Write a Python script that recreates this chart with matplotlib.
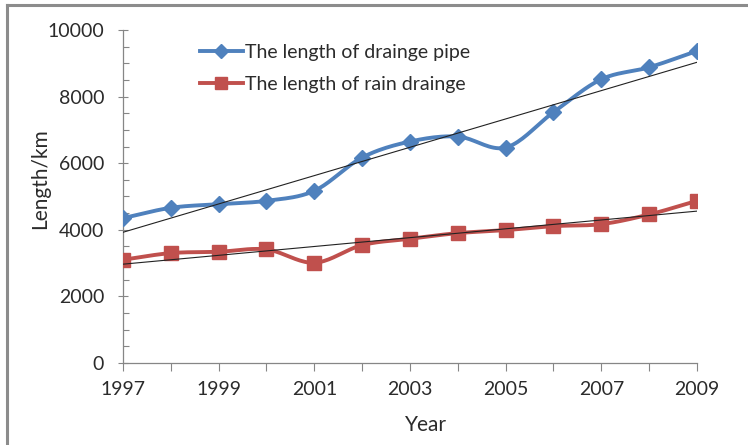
import numpy as np
import matplotlib
matplotlib.use("Agg")
import matplotlib.pyplot as plt
from matplotlib.lines import Line2D
from matplotlib.ticker import MultipleLocator

plt.rcParams['font.family'] = ['Lato', 'DejaVu Sans']

years = [1997, 1998, 1999, 2000, 2001, 2002, 2003, 2004, 2005, 2006, 2007, 2008, 2009]
pipe = [4350, 4660, 4770, 4870, 5170, 6170, 6650, 6800, 6470, 7530, 8520, 8880, 9370]
rain = [3100, 3300, 3340, 3410, 3010, 3540, 3730, 3900, 3990, 4110, 4170, 4460, 4870]
series_names = ["The length of drainge pipe", "The length of rain drainge"]
xtick_labels = ["1997", "", "1999", "", "2001", "", "2003", "", "2005", "", "2007", "", "2009"]

blue = "#4F81BD"
red = "#C0504D"
txt = "#2b2b2b"


def smooth(x, y, n=20):
    x = np.asarray(x, float)
    y = np.asarray(y, float)
    px = np.concatenate([[2 * x[0] - x[1]], x, [2 * x[-1] - x[-2]]])
    py = np.concatenate([[2 * y[0] - y[1]], y, [2 * y[-1] - y[-2]]])
    xs, ys = [], []
    for i in range(1, len(px) - 2):
        t = np.linspace(0, 1, n, endpoint=False)
        for arr, out in ((px, xs), (py, ys)):
            p0, p1, p2, p3 = arr[i - 1], arr[i], arr[i + 1], arr[i + 2]
            out.extend(0.5 * ((2 * p1) + (-p0 + p2) * t + (2 * p0 - 5 * p1 + 4 * p2 - p3) * t ** 2
                              + (-p0 + 3 * p1 - 3 * p2 + p3) * t ** 3))
    xs.append(x[-1])
    ys.append(y[-1])
    return np.array(xs), np.array(ys)


fig = plt.figure(figsize=(7.48, 4.45), dpi=100)
ax = fig.add_axes([0.1644, 0.1843, 0.7674, 0.7483])

for vals, col, mk, ms in ((pipe, blue, 'D', 8), (rain, red, 's', 10)):
    sx, sy = smooth(years, vals)
    ax.plot(sx, sy, color=col, lw=2.8, solid_capstyle='round', zorder=3)
    ax.plot(years, vals, ls='none', marker=mk, ms=ms, color=col, zorder=4)
    k, b = np.polyfit(years, vals, 1)
    xx = np.array([years[0], years[-1]])
    ax.plot(xx, k * xx + b, color='#222222', lw=0.8, zorder=5)

handles = [Line2D([], [], color=blue, lw=2.8, marker='D', ms=7),
           Line2D([], [], color=red, lw=2.8, marker='s', ms=9)]
ax.legend(handles, series_names, loc='upper left', bbox_to_anchor=(0.11, 1.0),
          frameon=False, fontsize=14, handlelength=2.2, handletextpad=0.15,
          labelspacing=0.8, labelcolor=txt, borderaxespad=0.3)

ax.set_xlim(years[0], years[-1])
ax.set_ylim(0, 10000)
ax.set_xticks(years)
ax.set_xticklabels(xtick_labels)
ax.yaxis.set_major_locator(MultipleLocator(2000))
ax.yaxis.set_minor_locator(MultipleLocator(500))
ax.tick_params(axis='y', which='major', direction='inout', length=7, width=0.8, color='#868686',
               labelsize=14, labelcolor=txt, pad=10)
ax.tick_params(axis='y', which='minor', direction='in', length=4, width=0.8, color='#868686')
ax.tick_params(axis='x', which='major', direction='out', length=6, width=0.8, color='#868686',
               labelsize=14, labelcolor=txt, pad=7)
for s in ('top', 'right'):
    ax.spines[s].set_visible(False)
for s in ('left', 'bottom'):
    ax.spines[s].set_color('#868686')
    ax.spines[s].set_linewidth(0.9)

fig.text(426 / 748, 1 - 425 / 445, "Year", fontsize=15, color=txt, ha='center', va='center')
fig.text(40 / 748, 1 - 179 / 445, "Length/km", fontsize=15, color=txt, ha='center', va='center',
         rotation=90)

fig.add_artist(Line2D([7 / 748, 1], [1 - 5 / 445, 1 - 5 / 445], color='#8c8c8c', lw=2.2))
fig.add_artist(Line2D([7 / 748, 7 / 748], [0, 1 - 5 / 445], color='#8c8c8c', lw=2.2))

fig.savefig("out.png", dpi=100)
